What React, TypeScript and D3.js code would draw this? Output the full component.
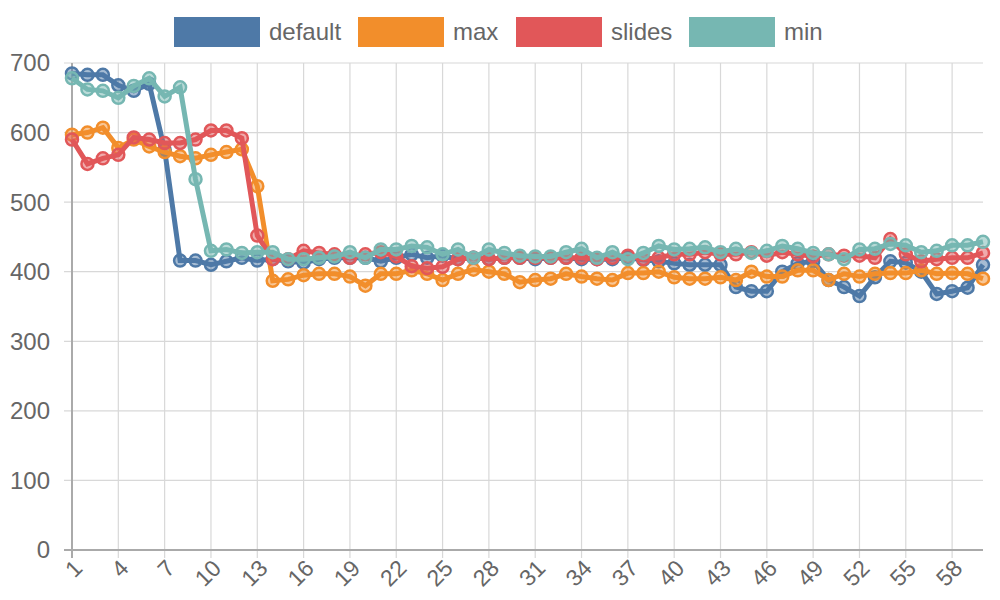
import React from 'react';
import * as d3 from 'd3';

const labels = d3.range(1, 61);
const seriesNames = ['default', 'max', 'slides', 'min'];
const colors = ['#4e79a7', '#f28e2b', '#e15759', '#76b7b2'];

const defaultVals = [685, 683, 683, 668, 660, 670, 575, 416, 416, 410, 415, 420, 416, 418, 415, 413, 418, 420, 420, 420, 415, 420, 425, 420, 423, 418, 420, 418, 420, 420, 418, 420, 420, 418, 418, 418, 420, 417, 415, 412, 410, 410, 410, 378, 372, 372, 400, 412, 415, 388, 378, 365, 392, 415, 413, 400, 368, 372, 377, 410];
const maxVals = [597, 600, 607, 578, 590, 580, 572, 566, 563, 568, 572, 576, 523, 387, 389, 395, 397, 397, 393, 380, 397, 397, 402, 397, 388, 397, 403, 400, 397, 385, 388, 390, 397, 393, 390, 388, 398, 398, 400, 392, 390, 390, 392, 388, 400, 393, 393, 402, 402, 388, 397, 393, 397, 398, 398, 402, 397, 398, 397, 390];
const slidesVals = [590, 555, 563, 568, 593, 590, 585, 585, 590, 603, 603, 592, 452, 418, 418, 430, 427, 425, 420, 425, 428, 422, 408, 405, 407, 418, 420, 418, 420, 420, 420, 420, 420, 420, 418, 420, 423, 418, 420, 425, 425, 428, 425, 425, 428, 423, 428, 425, 422, 425, 423, 423, 420, 447, 425, 415, 418, 420, 420, 427];
const minVals = [678, 662, 660, 650, 667, 678, 652, 665, 533, 430, 432, 427, 428, 428, 418, 418, 420, 422, 428, 420, 432, 432, 437, 435, 425, 432, 420, 432, 427, 423, 422, 422, 428, 433, 420, 428, 418, 427, 437, 432, 433, 435, 428, 433, 427, 430, 437, 433, 427, 425, 418, 432, 433, 440, 438, 428, 430, 438, 438, 443];
const series = [defaultVals, maxVals, slidesVals, minVals];
const yTicks = [0, 100, 200, 300, 400, 500, 600, 700];

const W = 1000, H = 600;
const left = 72, right = 983, top = 63, bottom = 550;
const font = 'Liberation Sans, Arial, sans-serif';

export default function App() {
  const x = d3.scaleLinear().domain([1, 60]).range([left, right]);
  const y = d3.scaleLinear().domain([0, 700]).range([bottom, top]);
  const line = d3.line<number>().x((_, i) => x(labels[i])).y(d => y(d));
  const xTicks = labels.filter(l => (l - 1) % 3 === 0);
  const legendX = [174, 358, 516, 689];

  return (
    <svg width={W} height={H} style={{ position: 'absolute', left: 0, top: 0 }} fontFamily={font}>
      {yTicks.map(t => (
        <g key={t}>
          <line x1={left - 8} x2={right} y1={y(t)} y2={y(t)} stroke="#d8d8d8" strokeWidth={1.2} />
          <text x={left - 22} y={y(t)} dy="0.35em" textAnchor="end" fontSize={24} fill="#666">{t}</text>
        </g>
      ))}
      {xTicks.map(t => (
        <g key={t}>
          <line x1={x(t)} x2={x(t)} y1={top} y2={bottom + 8} stroke="#d8d8d8" strokeWidth={1.2} />
          <text transform={`translate(${x(t) + 6},${bottom + 14}) rotate(-45)`} textAnchor="end" dy="0.35em" fontSize={23} fill="#666">{t}</text>
        </g>
      ))}
      <line x1={left} x2={left} y1={top} y2={bottom + 8} stroke="#aaa" strokeWidth={2} />
      <line x1={left - 8} x2={right} y1={bottom} y2={bottom} stroke="#aaa" strokeWidth={2} />
      {series.map((s, si) => (
        <g key={si}>
          <path d={line(s) || ''} fill="none" stroke={colors[si]} strokeWidth={5} />
          {s.map((v, i) => (
            <circle key={i} cx={x(labels[i])} cy={y(v)} r={6} fill={colors[si]} fillOpacity={0.5} stroke={colors[si]} strokeWidth={2.5} />
          ))}
        </g>
      ))}
      {seriesNames.map((n, i) => (
        <g key={n}>
          <rect x={legendX[i]} y={17} width={86} height={30} fill={colors[i]} />
          <text x={legendX[i] + 95} y={32} dy="0.35em" fontSize={24} fill="#666">{n}</text>
        </g>
      ))}
    </svg>
  );
}
